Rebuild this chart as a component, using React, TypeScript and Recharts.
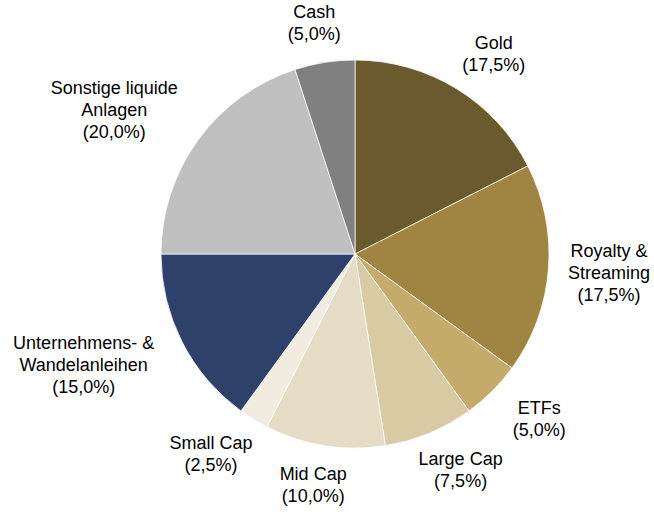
import { Cell, Pie, PieChart } from "recharts";

const categories = [
  "Gold",
  "Royalty &\nStreaming",
  "ETFs",
  "Large Cap",
  "Mid Cap",
  "Small Cap",
  "Unternehmens- &\nWandelanleihen",
  "Sonstige liquide\nAnlagen",
  "Cash",
];
const shares = [17.5, 17.5, 5.0, 7.5, 10.0, 2.5, 15.0, 20.0, 5.0];
const colors = [
  "#6B5A2D",
  "#A08441",
  "#C4AA6B",
  "#D8CBA4",
  "#E6DCC5",
  "#F1ECE0",
  "#2E416A",
  "#BFBFBF",
  "#808080",
];

const chartData = categories.map((name, i) => ({ name, value: shares[i] }));

const W = 654;
const H = 518;
const FONT = "'Liberation Sans', Arial, sans-serif";
const FONT_SIZE = 18;
const LINE_H = 22;
const RADIAN = Math.PI / 180;

let ctx: CanvasRenderingContext2D | null = null;
const measure = (s: string) => {
  if (!ctx) {
    ctx = document.createElement("canvas").getContext("2d");
  }
  if (!ctx) return s.length * FONT_SIZE * 0.55;
  ctx.font = `${FONT_SIZE}px ${FONT}`;
  return ctx.measureText(s).width;
};

const renderLabel = (props: any) => {
  const { cx, cy, midAngle, outerRadius, name, value } = props;
  const lines = [...String(name).split("\n"), `(${Number(value).toFixed(1).replace(".", ",")}%)`];
  const w = Math.max(...lines.map(measure));
  const h = lines.length * LINE_H;
  const cos = Math.cos(-midAngle * RADIAN);
  const sin = Math.sin(-midAngle * RADIAN);
  let x = cx + (outerRadius + 40 + w / 2) * cos;
  // keep the label inside the chart area
  x = Math.min(Math.max(x, w / 2 + 4), W - w / 2 - 4);
  const y = cy + (outerRadius + 18 + h / 2) * sin;
  const top = y - ((lines.length - 1) * LINE_H) / 2;
  return (
    <text
      x={x}
      y={top}
      textAnchor="middle"
      dominantBaseline="central"
      fill="#000"
      fontFamily={FONT}
      fontSize={FONT_SIZE}
    >
      {lines.map((l, i) => (
        <tspan key={i} x={x} y={top + i * LINE_H}>
          {l}
        </tspan>
      ))}
    </text>
  );
};

const App = () => {
  return (
    <div style={{ position: "absolute", left: 0, top: 0, background: "#fff" }}>
      <PieChart width={W} height={H} margin={{ top: 0, right: 0, bottom: 0, left: 0 }}>
        <Pie
          data={chartData}
          dataKey="value"
          nameKey="name"
          cx={355}
          cy={254}
          outerRadius={194}
          startAngle={90}
          endAngle={-270}
          stroke="#fff"
          strokeWidth={0.75}
          label={renderLabel}
          labelLine={false}
          isAnimationActive={false}
        >
          {chartData.map((item, index) => (
            <Cell key={index} fill={colors[index]} />
          ))}
        </Pie>
      </PieChart>
    </div>
  );
};

export default App;
